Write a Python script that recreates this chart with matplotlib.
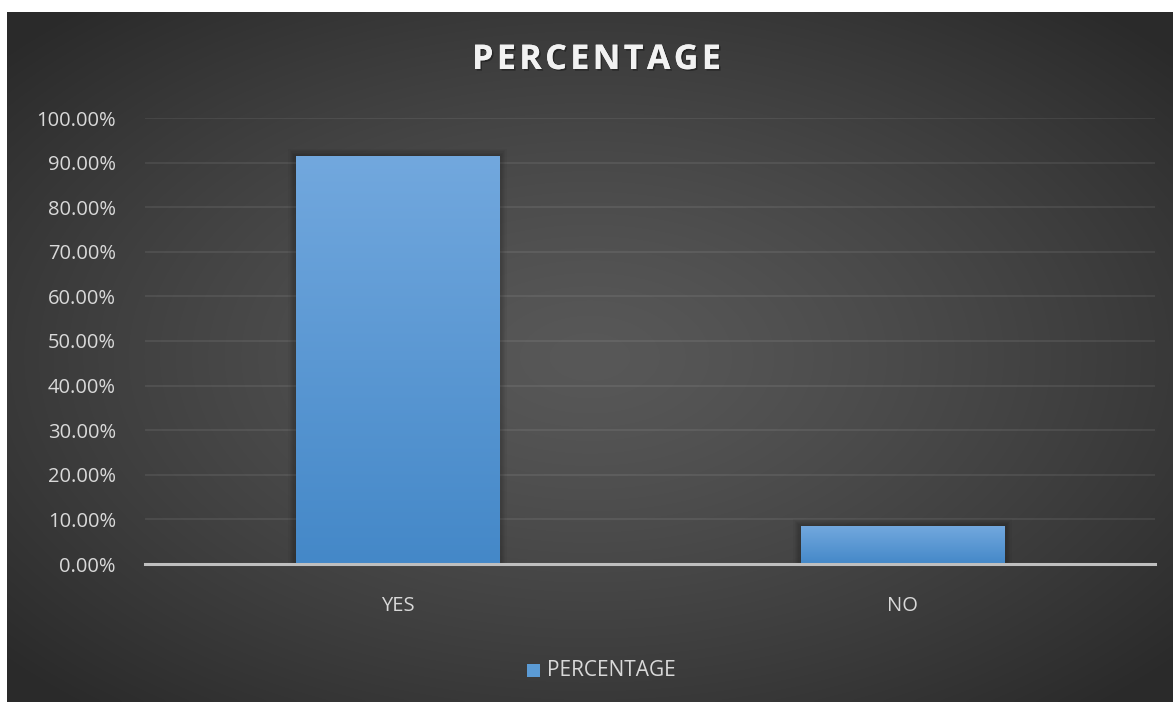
import numpy as np
import matplotlib.pyplot as plt
from matplotlib.patches import Rectangle
import matplotlib.patheffects as pe

categories = ['YES', 'NO']
percentage = [91.5, 8.5]
yticks = [0, 10, 20, 30, 40, 50, 60, 70, 80, 90, 100]

plt.rcParams['font.family'] = ['Open Sans', 'DejaVu Sans']

W, H = 1173, 702
fig = plt.figure(figsize=(W / 100, H / 100), dpi=100)
fig.patch.set_facecolor('white')

# dark panel with a soft radial glow in the middle
bg = fig.add_axes([7 / W, 0, 1 - 7 / W, 1 - 12 / H])
bg.set_axis_off()
gx, gy = np.meshgrid(np.linspace(-1, 1, 400), np.linspace(-1, 1, 240))
r = np.clip(np.sqrt(gx ** 2 + gy ** 2) / 1.35, 0, 1)
shade = 0.345 - 0.18 * r ** 1.3
bg.imshow(np.dstack([shade] * 3), aspect='auto', extent=[0, 1, 0, 1], interpolation='bicubic')
bg.set_xlim(0, 1)
bg.set_ylim(0, 1)

ax = fig.add_axes([145 / W, 1 - 564 / H, 1010 / W, 446 / H])
ax.set_facecolor('none')
x = np.arange(len(categories))
width = 0.402

# soft shadow behind the bars
for xi, v in zip(x, percentage):
    for k in range(1, 7):
        pad = 0.0025 * k
        ax.add_patch(Rectangle((xi - width / 2 - pad, 0), width + 2 * pad, v + 0.25 * k,
                               facecolor='black', edgecolor='none', alpha=0.04, zorder=2))

bars = ax.bar(x, percentage, width=width, color='#5b9bd5', zorder=3)

# vertical gradient fill on each bar
grad = np.linspace(0, 1, 256).reshape(-1, 1)
top_c = np.array([0x72, 0xa8, 0xde]) / 255
bot_c = np.array([0x44, 0x88, 0xc8]) / 255
for b in bars:
    x0, y0 = b.get_x(), b.get_y()
    w, h = b.get_width(), b.get_height()
    img = bot_c + (top_c - bot_c) * grad
    im = ax.imshow(img.reshape(256, 1, 3), extent=[x0, x0 + w, y0, y0 + h], origin='lower',
                   aspect='auto', zorder=4, interpolation='bilinear')
    im.set_clip_path(b)

ax.set_xlim(-0.5, 1.5)
ax.set_ylim(0, 100)
ax.set_yticks(yticks)
ax.set_yticklabels([f'{t:.2f}%' for t in yticks])
ax.set_xticks(x)
ax.set_xticklabels(categories)
ax.grid(axis='y', color='white', alpha=0.09, linewidth=1.2, zorder=1)
ax.set_axisbelow(True)
for s in ['top', 'right', 'left']:
    ax.spines[s].set_visible(False)
ax.spines['bottom'].set_color('#bfbfbf')
ax.spines['bottom'].set_linewidth(2.2)
ax.spines['bottom'].set_zorder(5)
ax.tick_params(axis='both', length=0, colors='#d9d9d9', labelsize=14.5)
ax.tick_params(axis='y', pad=21)
ax.tick_params(axis='x', pad=23)

fig.text(596 / W, 1 - 60 / H, 'P E R C E N T A G E'.replace(' ', '\u200a'), ha='center', va='center',
         fontsize=24.5, fontweight='bold', color='#f2f2f2',
         path_effects=[pe.withSimplePatchShadow(offset=(1.2, -1.2), shadow_rgbFace='black', alpha=0.35),
                       pe.Normal()])

# legend
fig.patches.append(Rectangle((527 / W, 1 - 677 / H), 13 / W, 13 / H, transform=fig.transFigure,
                             facecolor='#5b9bd5', edgecolor='none'))
fig.text(547 / W, 1 - 670 / H, 'PERCENTAGE', ha='left', va='center', fontsize=15, color='#d9d9d9')

fig.savefig('out.png', dpi=100, facecolor=fig.get_facecolor())
